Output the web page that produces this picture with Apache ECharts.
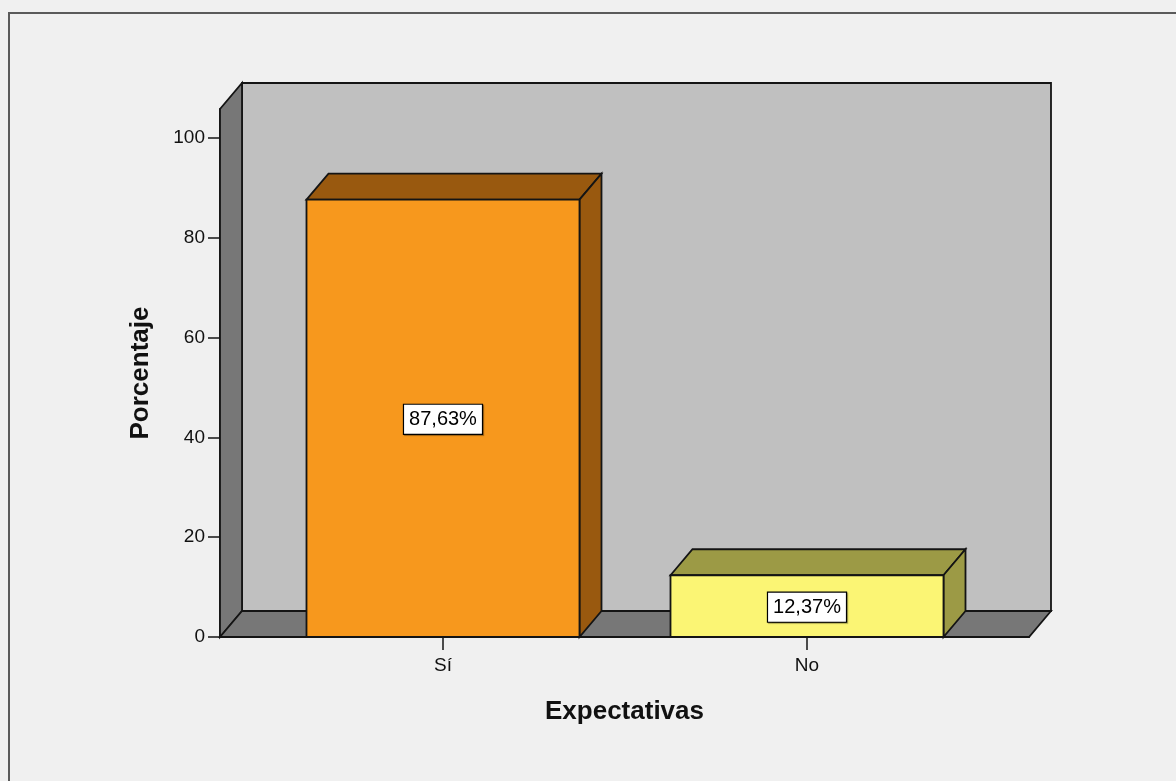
<!DOCTYPE html>
<html>
<head>
<meta charset="utf-8">
<script src="https://cdn.jsdelivr.net/npm/echarts@6/dist/echarts.min.js"></script>
<style>
html,body{margin:0;padding:0;background:#f0f0f0;}
#chart{width:1176px;height:781px;}
</style>
</head>
<body>
<div id="chart"></div>
<script>
// ---- data ----
const categories = ['Sí', 'No'];
const percentages = [87.63, 12.37];
const valueLabels = ['87,63%', '12,37%'];
const yTicks = [0, 20, 40, 60, 80, 100];

// ---- styles ----
const frontColors = ['#f7981d', '#fbf574'];
const shadeColors = ['#99590f', '#9c9a45'];
const DX = 22, DY = -26;          // 3D depth offset (pixels)
const BAR_HALF = 0.375;           // half bar width in category units
const X_MIN = -0.6126, X_MAX = 1.6099, Y_MAX = 105.8;
const EDGE = '#141414';
const FONT = '"Liberation Sans", Arial, sans-serif';

const chart = echarts.init(document.getElementById('chart'));

function renderWalls(params, api) {
  const a = api.coord([X_MIN, 0]);
  const b = api.coord([X_MAX, Y_MAX]);
  const st = (fill) => ({ fill: fill, stroke: EDGE, lineWidth: 1.8, lineJoin: 'miter' });
  return {
    type: 'group',
    children: [
      { type: 'polygon', shape: { points: [[a[0] + DX, b[1] + DY], [b[0] + DX, b[1] + DY], [b[0] + DX, a[1] + DY], [a[0] + DX, a[1] + DY]] }, style: st('#c0c0c0') },
      { type: 'polygon', shape: { points: [[a[0], a[1]], [a[0], b[1]], [a[0] + DX, b[1] + DY], [a[0] + DX, a[1] + DY]] }, style: st('#777777') },
      { type: 'polygon', shape: { points: [[a[0], a[1]], [b[0], a[1]], [b[0] + DX, a[1] + DY], [a[0] + DX, a[1] + DY]] }, style: st('#777777') }
    ]
  };
}

function renderBar(params, api) {
  const i = api.value(0), v = api.value(1);
  const p0 = api.coord([i - BAR_HALF, 0]);
  const p1 = api.coord([i + BAR_HALF, v]);
  const x0 = p0[0], y0 = p0[1], x1 = p1[0], y1 = p1[1];
  const idx = params.dataIndex;
  const st = (fill) => ({ fill: fill, stroke: EDGE, lineWidth: 1.8, lineJoin: 'miter' });
  return {
    type: 'group',
    children: [
      { type: 'polygon', shape: { points: [[x0, y1], [x1, y1], [x1 + DX, y1 + DY], [x0 + DX, y1 + DY]] }, style: st(shadeColors[idx]) },
      { type: 'polygon', shape: { points: [[x1, y1], [x1, y0], [x1 + DX, y0 + DY], [x1 + DX, y1 + DY]] }, style: st(shadeColors[idx]) },
      { type: 'polygon', shape: { points: [[x0, y1], [x1, y1], [x1, y0], [x0, y0]] }, style: st(frontColors[idx]) },
      { type: 'text', x: (x0 + x1) / 2, y: (y0 + y1) / 2 + 1,
        style: { text: valueLabels[idx], fill: '#000', font: '20px ' + FONT, align: 'center', verticalAlign: 'middle',
                 backgroundColor: '#ffffff', borderColor: '#000', borderWidth: 1.2, padding: [5, 5, 4, 5],
                 shadowColor: 'rgba(0,0,0,0.35)', shadowOffsetX: 1, shadowOffsetY: 1, shadowBlur: 1 } }
    ]
  };
}

const option = {
  backgroundColor: '#f0f0f0',
  animation: false,
  graphic: [{
    type: 'rect', shape: { x: 9, y: 13, width: 1200, height: 800 },
    style: { fill: 'none', stroke: '#5a5a5a', lineWidth: 2 }, silent: true, z: 100
  }],
  grid: { left: 220, top: 109, width: 809, height: 528 },
  xAxis: {
    type: 'value', min: X_MIN, max: X_MAX,
    name: 'Expectativas', nameLocation: 'middle', nameGap: 62,
    nameTextStyle: { fontFamily: FONT, fontWeight: 'bold', fontSize: 26, color: '#111' },
    axisLine: { show: true, onZero: false, lineStyle: { color: EDGE, width: 1.8 } },
    axisTick: { show: true, customValues: categories.map((c, i) => i), length: 13, lineStyle: { color: EDGE, width: 1.5 } },
    axisLabel: { customValues: categories.map((c, i) => i), formatter: (v) => categories[Math.round(v)] || '',
                 margin: 19, fontFamily: FONT, fontSize: 19, color: '#111' },
    splitLine: { show: false }
  },
  yAxis: {
    type: 'value', min: 0, max: Y_MAX,
    name: 'Porcentaje', nameLocation: 'middle', nameGap: 66,
    nameTextStyle: { fontFamily: FONT, fontWeight: 'bold', fontSize: 26, color: '#111' },
    axisLine: { show: true, onZero: false, lineStyle: { color: EDGE, width: 1.8 } },
    axisTick: { show: true, customValues: yTicks, length: 12, lineStyle: { color: EDGE, width: 1.5 } },
    axisLabel: { customValues: yTicks, margin: 15, fontFamily: FONT, fontSize: 19, color: '#111', padding: [5, 0, 0, 0] },
    splitLine: { show: false }
  },
  series: [
    { type: 'custom', name: 'walls', renderItem: renderWalls, data: [[0, 0]], clip: false, z: 1, silent: true },
    { type: 'custom', name: 'Porcentaje', renderItem: renderBar,
      data: percentages.map((v, i) => [i, v]), clip: false, z: 2 }
  ]
};
chart.setOption(option);
</script>
</body>
</html>
